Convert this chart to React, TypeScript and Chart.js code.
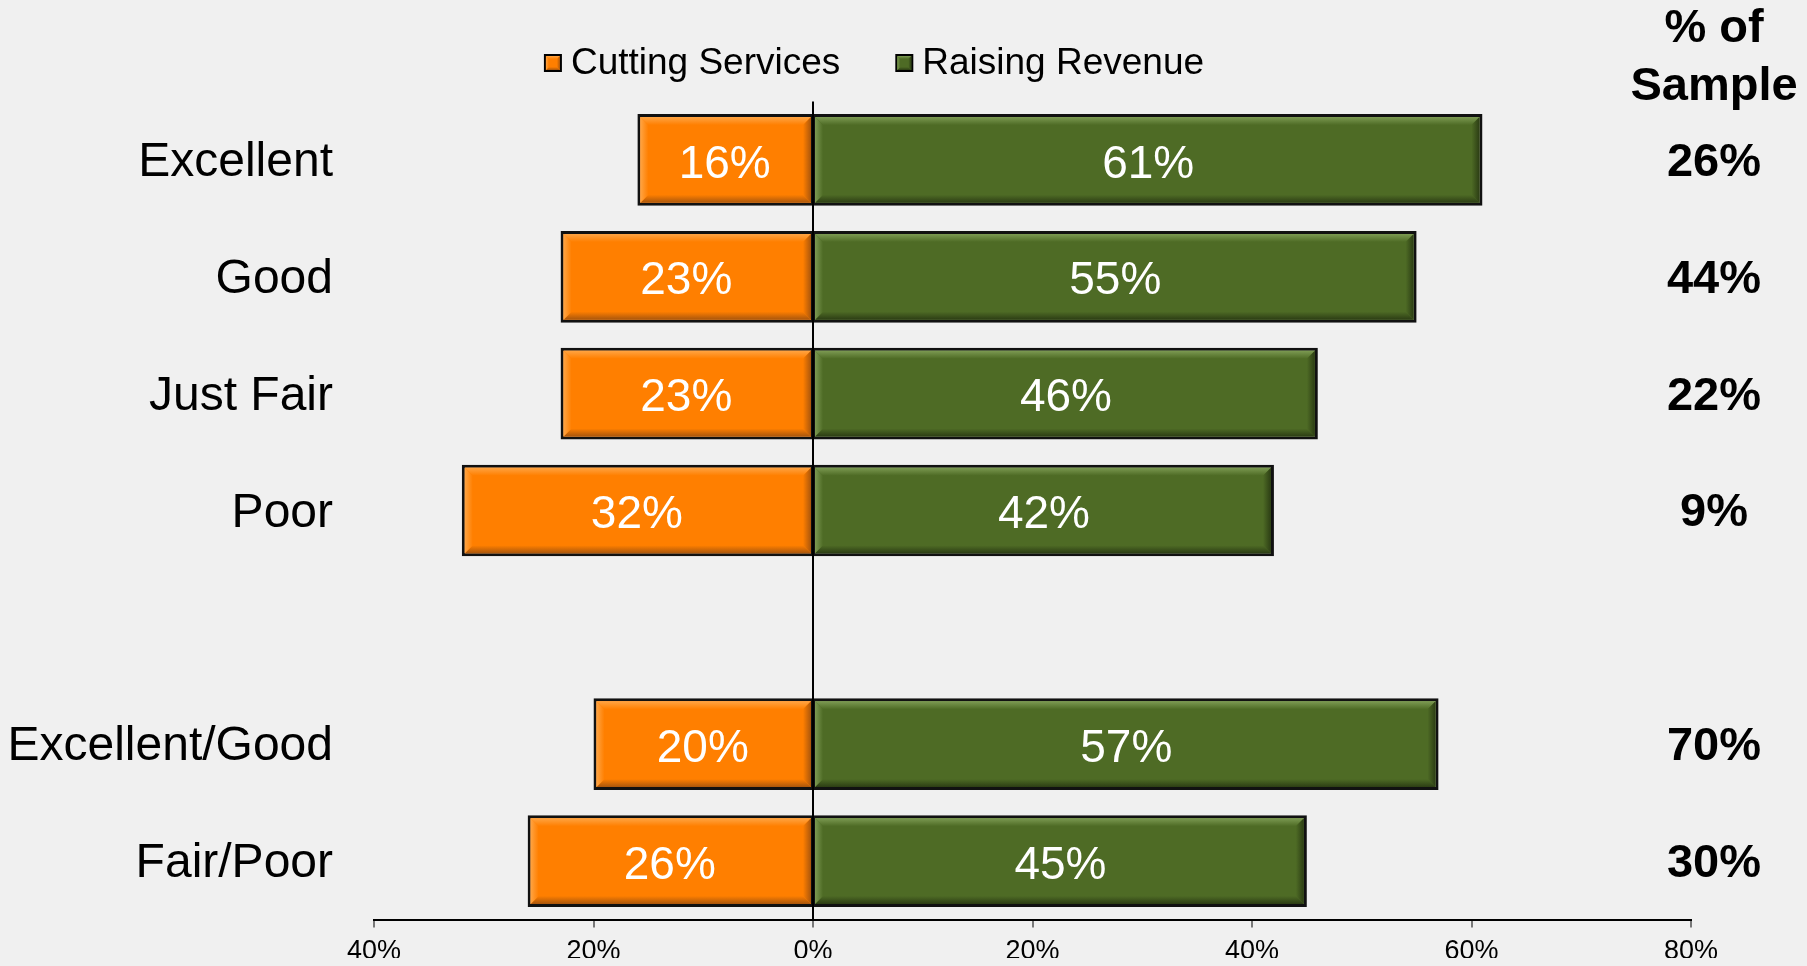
import React, { useEffect, useRef } from "react";
import { Chart, registerables } from "chart.js";

Chart.register(...registerables);

const categories = ["Excellent", "Good", "Just Fair", "Poor", "", "Excellent/Good", "Fair/Poor"];
const cuttingServices: (number | null)[] = [16, 23, 23, 32, null, 20, 26];
const raisingRevenue: (number | null)[] = [61, 55, 46, 42, null, 57, 45];
const sampleShare = ["26%", "44%", "22%", "9%", "", "70%", "30%"];
const sampleHeader = ["% of", "Sample"];
const seriesNames = ["Cutting Services", "Raising Revenue"];
const xMin = -40;
const xMax = 80;
const xStep = 20;

const BG = "#F0F0F0";
const FONT = "'Liberation Sans', Arial, sans-serif";

const palette = [
  { base: "#FF7F00", light: "#FFA443", dark: "#A9560C" },
  { base: "#4E6B25", light: "#7C9A52", dark: "#2C3D14" },
];
const borders = [
  { top: 3, bottom: 3, left: 3, right: 1 },
  { top: 3, bottom: 3, left: 1, right: 3 },
];

function poly(ctx: CanvasRenderingContext2D, pts: number[], fill: string | CanvasGradient) {
  ctx.beginPath();
  ctx.moveTo(pts[0], pts[1]);
  for (let i = 2; i < pts.length; i += 2) ctx.lineTo(pts[i], pts[i + 1]);
  ctx.closePath();
  ctx.fillStyle = fill;
  ctx.fill();
}

function drawBevel(ctx: CanvasRenderingContext2D, l: number, t: number, r: number, b: number, c: { base: string; light: string; dark: string }, s: number) {
  const gT = ctx.createLinearGradient(0, t, 0, t + s);
  gT.addColorStop(0, c.light);
  gT.addColorStop(1, c.base);
  poly(ctx, [l, t, r, t, r - s, t + s, l + s, t + s], gT);
  const gB = ctx.createLinearGradient(0, b - s, 0, b);
  gB.addColorStop(0, c.base);
  gB.addColorStop(1, c.dark);
  poly(ctx, [l, b, r, b, r - s, b - s, l + s, b - s], gB);
  const gR = ctx.createLinearGradient(r - s, 0, r, 0);
  gR.addColorStop(0, c.base);
  gR.addColorStop(1, c.dark);
  poly(ctx, [r, t, r, b, r - s, b - s, r - s, t + s], gR);
  const gL = ctx.createLinearGradient(l, 0, l + s, 0);
  gL.addColorStop(0, c.light);
  gL.addColorStop(1, c.base);
  poly(ctx, [l, t, l, b, l + s, b - s, l + s, t + s], gL);
}

const barDecor = {
  id: "barDecor",
  afterDatasetsDraw(chart: any) {
    const ctx: CanvasRenderingContext2D = chart.ctx;
    ctx.save();
    chart.data.datasets.forEach((ds: any, di: number) => {
      const meta = chart.getDatasetMeta(di);
      const bw = borders[di];
      meta.data.forEach((bar: any, i: number) => {
        const v = ds.data[i];
        if (v == null) return;
        const { x, y, base, height } = bar.getProps(["x", "y", "base", "height"], true);
        const l = Math.min(x, base) + bw.left;
        const r = Math.max(x, base) - bw.right;
        const t = y - height / 2 + bw.top;
        const b = y + height / 2 - bw.bottom;
        drawBevel(ctx, l, t, r, b, palette[di], 8);
      });
    });
    chart.data.datasets.forEach((ds: any, di: number) => {
      const meta = chart.getDatasetMeta(di);
      meta.data.forEach((bar: any, i: number) => {
        const v = ds.data[i];
        if (v == null) return;
        const { x, y, base } = bar.getProps(["x", "y", "base"], true);
        ctx.fillStyle = "#FFFFFF";
        ctx.font = `46px ${FONT}`;
        ctx.textAlign = "center";
        ctx.textBaseline = "middle";
        ctx.fillText(`${Math.abs(v)}%`, (x + base) / 2, y + 5);
      });
    });
    ctx.restore();
  },
};

const sideColumn = {
  id: "sideColumn",
  afterDraw(chart: any) {
    const ctx: CanvasRenderingContext2D = chart.ctx;
    const yScale = chart.scales.y;
    const cx = chart.width - 85;
    ctx.save();
    ctx.fillStyle = "#000";
    ctx.font = `bold 47px ${FONT}`;
    ctx.textAlign = "center";
    ctx.textBaseline = "middle";
    ctx.fillText(sampleHeader[0], cx, 21);
    ctx.fillText(sampleHeader[1], cx, 79);
    sampleShare.forEach((s, i) => {
      if (!s) return;
      ctx.fillText(s, cx, yScale.getPixelForValue(i) + 3);
    });

    // legend
    ctx.font = `37px ${FONT}`;
    const box = 18;
    const gap = 11;
    const itemGap = 53;
    const w0 = ctx.measureText(seriesNames[0]).width;
    const w1 = ctx.measureText(seriesNames[1]).width;
    const total = box + gap + w0 + itemGap + box + gap + w1;
    let lx = 867 - total / 2;
    const ly = 55;
    ctx.textAlign = "left";
    [w0, w1].forEach((w, k) => {
      ctx.fillStyle = "#000";
      ctx.fillRect(lx, ly - box / 2, box, box);
      ctx.fillStyle = palette[k].base;
      ctx.fillRect(lx + 2, ly - box / 2 + 2, box - 4, box - 4);
      drawBevel(ctx, lx + 2, ly - box / 2 + 2, lx + box - 2, ly + box / 2 - 2, palette[k], 3);
      ctx.fillStyle = "#000";
      ctx.fillText(seriesNames[k], lx + box + gap - 2, ly + 1);
      lx += box + gap + w + itemGap;
    });
    ctx.restore();
  },
};

export default function App() {
  const canvasRef = useRef<HTMLCanvasElement | null>(null);

  useEffect(() => {
    document.body.style.backgroundColor = BG;
    const canvas = canvasRef.current;
    if (!canvas) return;
    const chart = new Chart(canvas, {
      type: "bar",
      data: {
        labels: categories,
        datasets: [
          {
            label: seriesNames[0],
            data: cuttingServices.map((v) => (v == null ? null : -v)),
            backgroundColor: palette[0].base,
            borderColor: "#111",
            borderWidth: borders[0],
            borderSkipped: false,
            barPercentage: 0.785,
            categoryPercentage: 1,
          },
          {
            label: seriesNames[1],
            data: raisingRevenue,
            backgroundColor: palette[1].base,
            borderColor: "#111",
            borderWidth: borders[1],
            borderSkipped: false,
            barPercentage: 0.785,
            categoryPercentage: 1,
          },
        ],
      },
      options: {
        indexAxis: "y",
        animation: false,
        responsive: true,
        maintainAspectRatio: false,
        layout: { padding: { top: 93.5, right: 108, left: 0, bottom: 0 } },
        plugins: {
          legend: { display: false },
          tooltip: { enabled: false },
          title: { display: false },
        },
        scales: {
          x: {
            stacked: true,
            min: xMin,
            max: xMax,
            afterFit: (s: any) => {
              s.height = 38.5;
            },
            ticks: {
              stepSize: xStep,
              color: "#000",
              padding: 11,
              font: { family: FONT, size: 27, lineHeight: 1 },
              callback: (v: any) => `${Math.abs(Number(v))}%`,
            },
            grid: {
              drawOnChartArea: true,
              color: (c: any) => (c.tick && c.tick.value === 0 ? "#000" : "rgba(0,0,0,0)"),
              lineWidth: 2,
              tickColor: "#000",
              tickLength: 8,
              tickWidth: 1,
            },
            border: { display: true, color: "#000", width: 2 },
          },
          y: {
            stacked: true,
            offset: true,
            afterFit: (s: any) => {
              s.width = 366;
              s.paddingTop = 0;
              s.paddingBottom = 0;
            },
            ticks: {
              color: "#000",
              padding: 41,
              labelOffset: 3,
              font: { family: FONT, size: 48, lineHeight: 1.1 },
            },
            grid: { display: false, drawTicks: false },
            border: { display: false },
          },
        },
      },
      plugins: [barDecor, sideColumn],
    });
    return () => chart.destroy();
  }, []);

  return (
    <div style={{ position: "relative", width: 1791, height: 950, background: BG }}>
      <canvas ref={canvasRef} />
    </div>
  );
}
